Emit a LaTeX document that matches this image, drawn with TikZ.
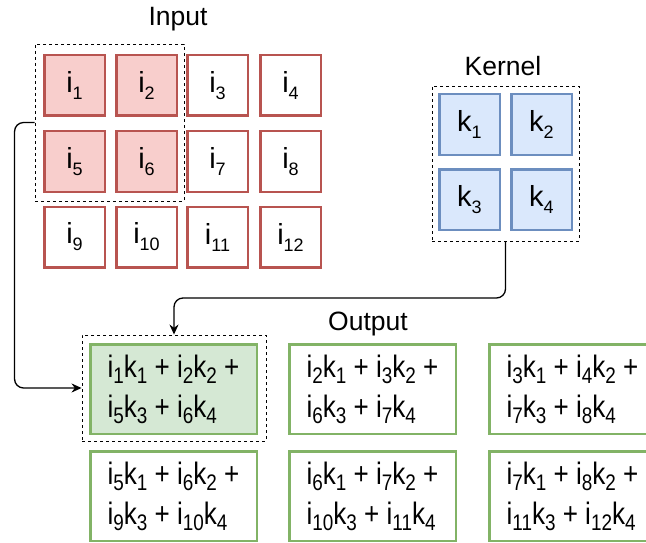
\documentclass[tikz,border=0pt]{standalone}
\usepackage{fontspec}
\setmainfont{Liberation Sans}
\newfontfamily\outfont[FakeStretch=0.84]{Liberation Sans}
\usetikzlibrary{arrows.meta}
\definecolor{redfill}{HTML}{F8CECC}
\definecolor{redline}{HTML}{B85450}
\definecolor{bluefill}{HTML}{DAE8FC}
\definecolor{blueline}{HTML}{6C8EBF}
\definecolor{greenfill}{HTML}{D5E8D4}
\definecolor{greenline}{HTML}{82B366}
\newcommand\csub[1]{\raisebox{-7pt}{\fontsize{18}{18}\selectfont #1}}
\newcommand\osub[1]{\raisebox{-6pt}{\fontsize{22.5}{22}\selectfont #1}}
\begin{document}
\begin{tikzpicture}[x=1pt,y=-1pt,
  cellbase/.style={line width=2.5pt, minimum width=60.5pt, minimum height=60.5pt, inner sep=0pt, font=\fontsize{29}{32}\selectfont},
  incell/.style={cellbase, draw=redline, fill=white},
  inhl/.style={incell, fill=redfill},
  kcell/.style={cellbase, draw=blueline, fill=bluefill},
  outcell/.style={draw=greenline, fill=white, line width=2.5pt, minimum width=166.5pt, minimum height=89.5pt, inner sep=0pt, align=left, font=\outfont\fontsize{31}{40}\selectfont},
  outhl/.style={outcell, fill=greenfill},
  dashbox/.style={draw=black, line width=0.9pt, dash pattern=on 3pt off 3pt, inner sep=0pt},
  title/.style={font=\fontsize{26.5}{30}\selectfont, inner sep=0pt},
  conn/.style={draw=black, line width=1.3pt, rounded corners=9pt, -{Stealth[length=10pt,width=9pt]}}
]
\useasboundingbox (0,0) rectangle (646,543);
\clip (0,0) rectangle (646,543);

% Input
\node[title] (tin) at (178,19) {Input};
\node[dashbox, minimum width=149pt, minimum height=157pt] (inbox) at (109.5,122.5) {};
\node[inhl] (i1) at (74.5,85.5) {i\csub{1}};
\node[inhl] (i2) at (146.5,85.5) {i\csub{2}};
\node[incell] (i3) at (217.5,85.5) {i\csub{3}};
\node[incell] (i4) at (290.5,85.5) {i\csub{4}};
\node[inhl] (i5) at (74.5,161.5) {i\csub{5}};
\node[inhl] (i6) at (146.5,161.5) {i\csub{6}};
\node[incell] (i7) at (217.5,161.5) {i\csub{7}};
\node[incell] (i8) at (290.5,161.5) {i\csub{8}};
\node[incell] (i9) at (74.5,237) {i\csub{9}};
\node[incell] (i10) at (146.5,237) {i\csub{10}};
\node[incell] (i11) at (217.5,237) {i\csub{11}};
\node[incell] (i12) at (290.5,237) {i\csub{12}};

% Kernel
\node[title] (tk) at (503,66) {Kernel};
\node[dashbox, minimum width=147pt, minimum height=155pt] (kbox) at (505.5,163.5) {};
\node[kcell] (k1) at (469.5,124.5) {k\csub{1}};
\node[kcell] (k2) at (541.5,124.5) {k\csub{2}};
\node[kcell] (k3) at (469.5,199.5) {k\csub{3}};
\node[kcell] (k4) at (541.5,199.5) {k\csub{4}};

% Output
\node[title] (tout) at (368,324) {Output};
\node[dashbox, minimum width=184pt, minimum height=106pt] (outbox) at (174,388) {};
\node[outhl] (o1) at (173.5,389) {i\osub{1}k\osub{1} + i\osub{2}k\osub{2} +\\i\osub{5}k\osub{3} + i\osub{6}k\osub{4}};
\node[outcell] (o2) at (372.5,389) {i\osub{2}k\osub{1} + i\osub{3}k\osub{2} +\\i\osub{6}k\osub{3} + i\osub{7}k\osub{4}};
\node[outcell] (o3) at (572.5,389) {i\osub{3}k\osub{1} + i\osub{4}k\osub{2} +\\i\osub{7}k\osub{3} + i\osub{8}k\osub{4}};
\node[outcell] (o4) at (173.5,496) {i\osub{5}k\osub{1} + i\osub{6}k\osub{2} +\\i\osub{9}k\osub{3} + i\osub{10}k\osub{4}};
\node[outcell] (o5) at (372.5,496) {i\osub{6}k\osub{1} + i\osub{7}k\osub{2} +\\i\osub{10}k\osub{3} + i\osub{11}k\osub{4}};
\node[outcell] (o6) at (572.5,496) {i\osub{7}k\osub{1} + i\osub{8}k\osub{2} +\\i\osub{11}k\osub{3} + i\osub{12}k\osub{4}};

% Connectors
\draw[conn] (inbox.west) -- ++(-20,0) |- (outbox.west);
\draw[conn] (kbox.south) -- (kbox.south |- 0,298) -| (outbox.north);
\end{tikzpicture}
\end{document}
